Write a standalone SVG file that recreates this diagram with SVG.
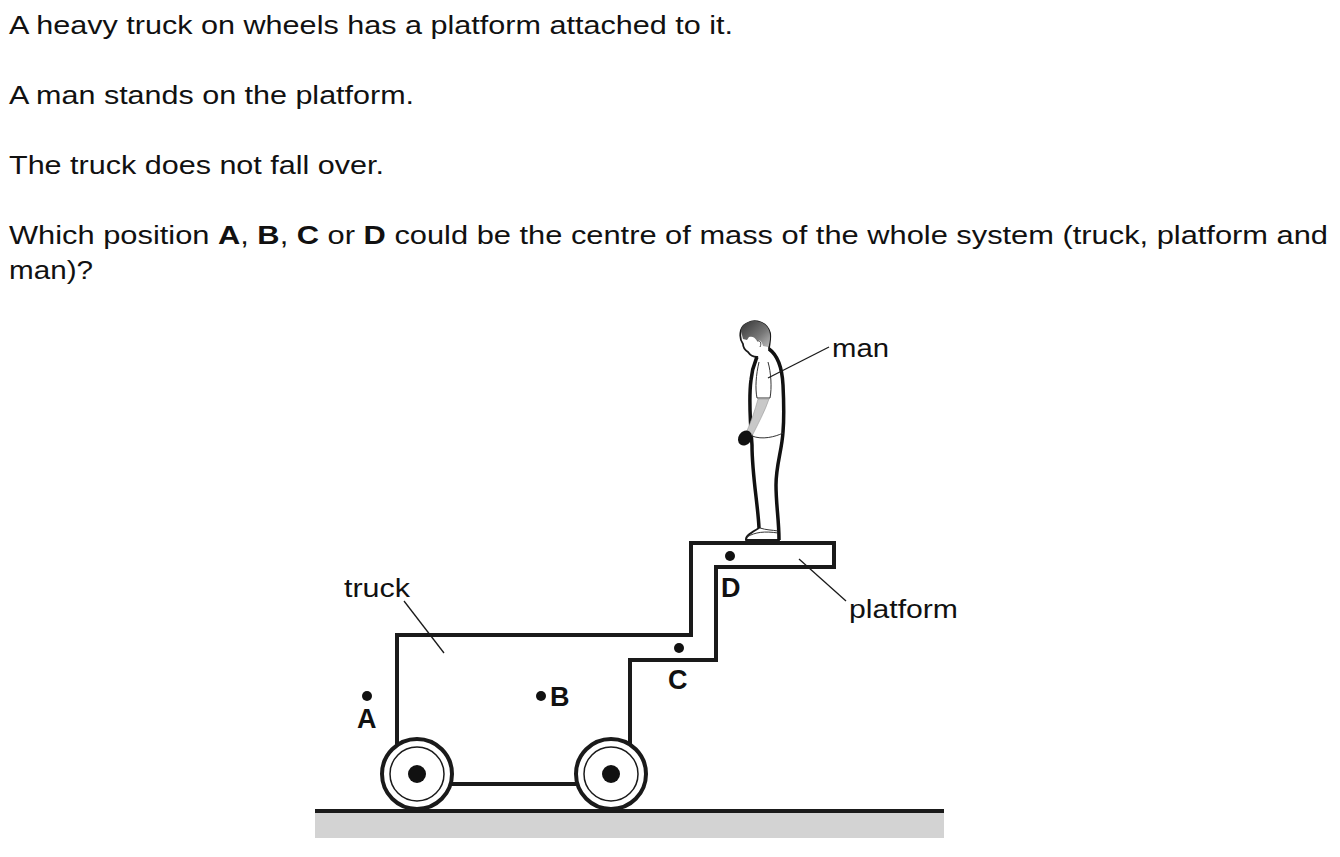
<svg xmlns="http://www.w3.org/2000/svg" width="1340" height="857" viewBox="0 0 1340 857">
<defs>
<linearGradient id="hair" x1="0" y1="0" x2="1" y2="1">
<stop offset="0" stop-color="#333"/>
<stop offset="0.6" stop-color="#777"/>
<stop offset="1" stop-color="#bbb"/>
</linearGradient>
<style>
text{font-family:"Liberation Sans",Arial,sans-serif;fill:#111;}
.q{font-size:26px;}
.lbl{font-size:26px;}
.let{font-size:27px;font-weight:bold;}
.thick{fill:none;stroke:#1a1a1a;stroke-width:4;stroke-linejoin:miter;}
.lead{fill:none;stroke:#1a1a1a;stroke-width:1.3;}
.dot{fill:#111;}
</style>
</defs>
<rect width="1340" height="857" fill="#fff"/>

<g id="question">
<text class="q" x="9" y="34" textLength="724" lengthAdjust="spacingAndGlyphs">A heavy truck on wheels has a platform attached to it.</text>
<text class="q" x="9" y="104" textLength="405" lengthAdjust="spacingAndGlyphs">A man stands on the platform.</text>
<text class="q" x="9" y="174" textLength="375" lengthAdjust="spacingAndGlyphs">The truck does not fall over.</text>
<text class="q" x="9" y="244" textLength="1319" lengthAdjust="spacingAndGlyphs">Which position <tspan font-weight="bold">A</tspan>, <tspan font-weight="bold">B</tspan>, <tspan font-weight="bold">C</tspan> or <tspan font-weight="bold">D</tspan> could be the centre of mass of the whole system (truck, platform and</text>
<text class="q" x="9" y="279" textLength="84" lengthAdjust="spacingAndGlyphs">man)?</text>
</g>

<g id="ground">
<rect x="315" y="812" width="629" height="26" fill="#d3d3d3"/>
<line x1="315" y1="811" x2="944" y2="811" stroke="#1a1a1a" stroke-width="4"/>
</g>

<g id="truck">
<path class="thick" d="M397,746 L397,635 L691,635 L691,543 L834,543 L834,567 L716,567 L716,660 L630,660 L630,745"/>
<line x1="451" y1="784" x2="577" y2="784" stroke="#1a1a1a" stroke-width="4"/>
</g>

<g id="wheel-left">
<circle cx="417" cy="774" r="35" fill="#fff" stroke="#1a1a1a" stroke-width="4"/>
<circle cx="417" cy="774" r="27" fill="none" stroke="#1a1a1a" stroke-width="1.5"/>
<circle cx="417" cy="774" r="9" fill="#111"/>
</g>
<g id="wheel-right">
<circle cx="611" cy="774" r="35" fill="#fff" stroke="#1a1a1a" stroke-width="4"/>
<circle cx="611" cy="774" r="27" fill="none" stroke="#1a1a1a" stroke-width="1.5"/>
<circle cx="611" cy="774" r="9" fill="#111"/>
</g>

<g id="man">
<path d="M748,323 C755,319 767,322 770,333 C771,340 769,345 769,349 C776,354 782,366 783,385 C784,405 784,420 783,432 C782,450 776,465 776,485 C776,505 779,520 779,540 L746,540 C745,536 752,532 759,528 C758,505 752,475 752,445 C750,420 749,395 751,380 C752,368 755,362 757,357 C753,357 750,355 748,352 C745,350 743,347 743,344 C740,340 740,334 741,330 C742,327 745,324 748,323 Z" fill="#fff" stroke="#1a1a1a" stroke-width="1.8"/>
<path d="M741,331 C741,324 750,320 756,321 C765,322 770,328 770,336 C770,342 769,345 768,347 L763,346 C762,342 760,339 757,341 C755,337 752,336 749,337 L747,340 L743,339 Z" fill="url(#hair)"/>
<path d="M757,341 C760,340 762,343 760,347" fill="none" stroke="#444" stroke-width="1"/>
<path d="M769,349 C776,354 782,366 783,385 C784,405 784,420 783,432 C782,450 776,465 776,485 C776,505 779,520 779,540" fill="none" stroke="#111" stroke-width="3.5"/>
<path d="M759,528 C758,505 752,475 752,445 C750,420 749,395 751,380 C752,368 755,362 757,357" fill="none" stroke="#111" stroke-width="3.5"/>
<path d="M759,362 C756,375 755,388 757,398 L770,398 C772,388 771,372 768,362" fill="none" stroke="#333" stroke-width="1"/>
<path d="M758,399 L769,399 C765,411 758,424 752,436 L746,433 C751,422 755,410 758,399 Z" fill="#c8c8c8" stroke="#999" stroke-width="0.6"/>
<path d="M752,436 C762,440 775,437 783,433" fill="none" stroke="#333" stroke-width="1"/>
<ellipse cx="745" cy="438" rx="6.5" ry="8" transform="rotate(35 745 438)" fill="#111"/>
<path d="M747,537 C755,532 765,531 778,533 M760,528 C766,530 772,530 778,531" fill="none" stroke="#333" stroke-width="1"/>
</g>

<g id="connectors">
<line class="lead" x1="829" y1="347" x2="768" y2="378"/>
<line class="lead" x1="404" y1="601" x2="444" y2="653"/>
<line class="lead" x1="799" y1="559" x2="846" y2="601"/>
</g>

<g id="labels">
<text class="lbl" x="832" y="357" textLength="57" lengthAdjust="spacingAndGlyphs">man</text>
<text class="lbl" x="344" y="597" textLength="66" lengthAdjust="spacingAndGlyphs">truck</text>
<text class="lbl" x="849" y="618" textLength="109" lengthAdjust="spacingAndGlyphs">platform</text>
</g>

<g id="point-A"><circle class="dot" cx="367" cy="696" r="5"/><text class="let" x="357" y="728">A</text></g>
<g id="point-B"><circle class="dot" cx="541" cy="696" r="5"/><text class="let" x="550" y="706">B</text></g>
<g id="point-C"><circle class="dot" cx="679" cy="648" r="5"/><text class="let" x="668" y="689">C</text></g>
<g id="point-D"><circle class="dot" cx="730" cy="556" r="5"/><text class="let" x="721" y="597">D</text></g>
</svg>
